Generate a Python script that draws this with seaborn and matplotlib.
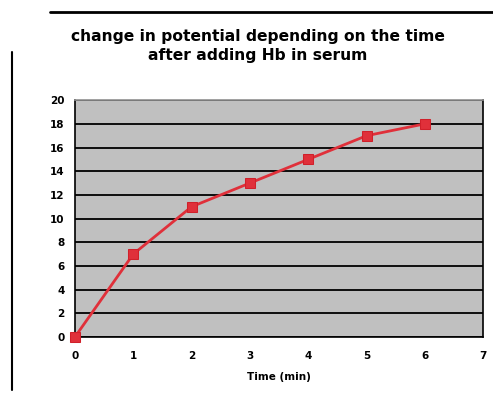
import matplotlib
matplotlib.use("Agg")
import matplotlib.pyplot as plt
import seaborn as sns
import pandas as pd

# Data
time_min = [0, 1, 2, 3, 4, 5, 6]
potential = [0, 7, 11, 13, 15, 17, 18]
df = pd.DataFrame({"time": time_min, "potential": potential})

sns.set_style("white")
plt.rcParams["font.family"] = ["DejaVu Sans"]

fig = plt.figure(figsize=(4.93, 3.96), dpi=100)
ax = fig.add_axes([0.152, 0.149, 0.828, 0.598])
ax.set_facecolor("#c0c0c0")

sns.lineplot(data=df, x="time", y="potential", ax=ax, color="#e0303a",
             linewidth=2, marker="s", markersize=7, markeredgecolor="#d0202a",
             clip_on=False, zorder=5)

ax.set_xlim(0, 7)
ax.set_ylim(0, 20)
ax.set_xticks(range(0, 8))
ax.set_yticks(range(0, 21, 2))
ax.yaxis.grid(True, color="black", linewidth=1.3)
ax.set_axisbelow(True)
for s in ax.spines.values():
    s.set_color("black")
    s.set_linewidth(1.2)
ax.spines["top"].set_color("#909090")
ax.tick_params(axis="both", direction="out", length=4, width=1, labelsize=7.5,
               colors="black")
ax.tick_params(axis="x", pad=6)
for lbl in ax.get_xticklabels() + ax.get_yticklabels():
    lbl.set_fontweight("bold")
ax.set_xlabel("Time (min)", fontsize=7.5, fontweight="bold", color="black", labelpad=8)
ax.set_ylabel("")

fig.text(0.523, 0.883, "change in potential depending on the time\nafter adding Hb in serum",
         ha="center", va="center", fontsize=11.2, fontweight="heavy", color="black",
         linespacing=1.35)

# frame lines
fig.add_artist(plt.Line2D([50 / 493, 1.0], [1 - 12 / 396] * 2, color="black", linewidth=2))
fig.add_artist(plt.Line2D([12 / 493] * 2, [1 - 52 / 396, 1 - 390 / 396], color="black", linewidth=1.5))

fig.savefig("out.png", dpi=100)
